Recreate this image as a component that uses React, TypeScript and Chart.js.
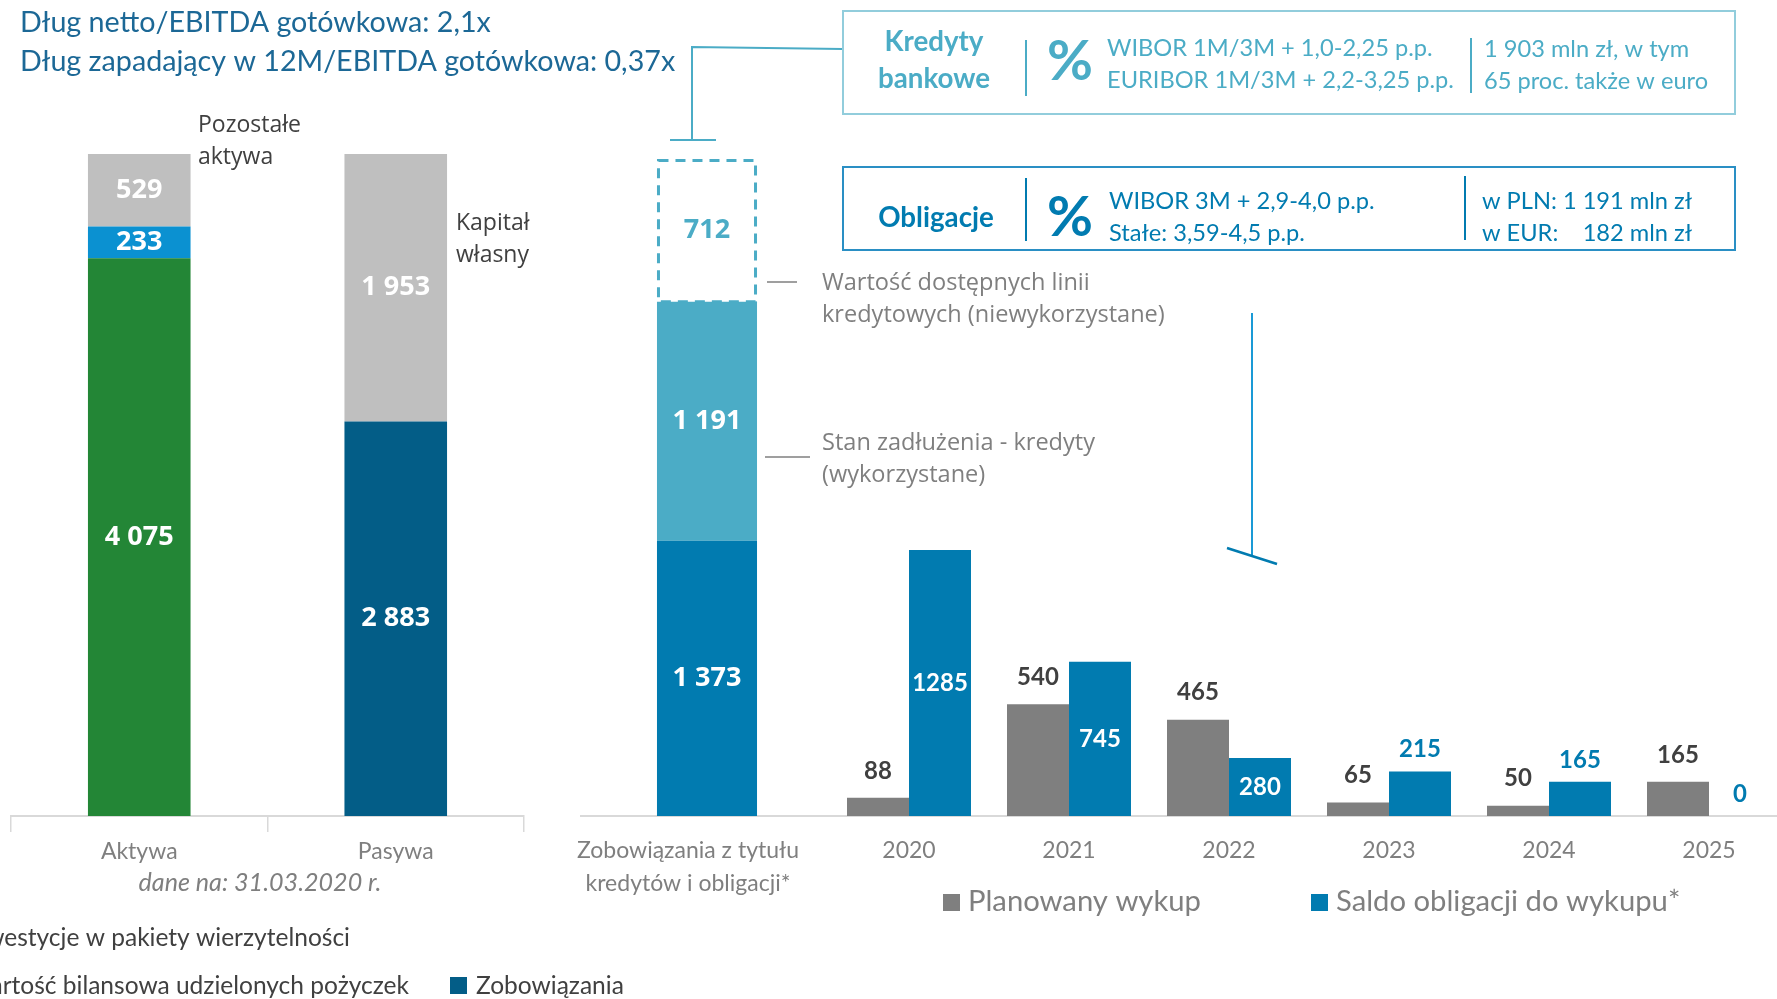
import React, { useEffect, useRef } from 'react';
import { Chart, registerables } from 'chart.js';
Chart.register(...registerables);

// ---------------- data ----------------
const balanceCategories = ['Aktywa', 'Pasywa'];
const debtPortfolios = [4075, null]; // Inwestycje w pakiety wierzytelności
const loansGranted = [233, null]; // Wartość bilansowa udzielonych pożyczek
const otherAssets = [529, null]; // Pozostałe aktywa
const liabilities = [null, 2883]; // Zobowiązania
const equity = [null, 1953]; // Kapitał własny

const debtCategories = [['Zobowiązania z tytułu', 'kredytów i obligacji*']];
const bondsDebt = [1373];
const creditUsed = [1191];
const creditAvailable = [712];

const years = ['2020', '2021', '2022', '2023', '2024', '2025'];
const plannedRedemption = [88, 540, 465, 65, 50, 165];
const bondBalance = [1285, 745, 280, 215, 165, 0];
const bondLabelOutside = [false, false, false, true, true, true];

// ---------------- styles ----------------
const LATO = 'Lato, "Open Sans", sans-serif';
const SANS = '"Open Sans", "DejaVu Sans", sans-serif';
const GREEN = '#238636';
const SKY = '#0B91D1';
const LGRAY = '#BFBFBF';
const NAVY = '#035D87';
const BLUE = '#017BB0';
const TEAL = '#4BACC6';
const GRAY = '#7F7F7F';
const DARK = '#404040';
const TITLE = '#1C6896';
const AXIS = '#D9D9D9';

const fmtSpace = (v: number) => String(v).replace(/\B(?=(\d{3})+(?!\d))/g, ' ');
const fmtPlain = (v: number) => String(v);

const valueLabels = {
  id: 'valueLabels',
  afterDatasetsDraw(chart: any) {
    const ctx = chart.ctx;
    chart.data.datasets.forEach((ds: any, di: number) => {
      const st = ds.lbl;
      if (!st) return;
      const meta = chart.getDatasetMeta(di);
      meta.data.forEach((bar: any, i: number) => {
        const v = ds.data[i];
        if (v === null || v === undefined) return;
        const p = bar.getProps(['x', 'y', 'base', 'width'], true);
        ctx.save();
        if (st.dashed) {
          ctx.strokeStyle = st.dashed;
          ctx.lineWidth = 3;
          ctx.setLineDash([10, 7]);
          ctx.strokeRect(p.x - p.width / 2 + 1.5, p.y + 1.5, p.width - 3, p.base - p.y - 1.5);
          ctx.setLineDash([]);
        }
        const outside = Array.isArray(st.outside) ? st.outside[i] : !!st.outside;
        ctx.font = st.font;
        ctx.fillStyle = outside ? st.outColor || st.color : st.color;
        ctx.textAlign = 'center';
        ctx.textBaseline = 'middle';
        const ty = outside ? p.y - st.offset : (p.y + p.base) / 2;
        ctx.fillText(st.fmt(v), p.x, ty);
        ctx.restore();
      });
    });
  },
};

const fixAxis = (h: number) => (scale: any) => {
  scale.height = h;
  scale.paddingLeft = 0;
  scale.paddingRight = 0;
};

function baseOptions(pad: any, yMax: number, xOpts: any) {
  return {
    responsive: false,
    animation: false,
    devicePixelRatio: 1,
    layout: { padding: pad },
    plugins: { legend: { display: false }, tooltip: { enabled: false }, title: { display: false } },
    scales: {
      x: Object.assign({ stacked: true, afterFit: fixAxis(183) }, xOpts),
      y: { stacked: true, display: false, min: 0, max: yMax },
    },
  };
}

// -------------- overlay (annotations) --------------
function fontStr(size: number, weight = 'normal', family = LATO, style = 'normal') {
  return `${style} ${weight} ${size}px ${family}`;
}
function fitSize(ctx: any, s: string, w: number, weight = 'normal', family = LATO, style = 'normal') {
  ctx.font = fontStr(100, weight, family, style);
  return (100 * w) / ctx.measureText(s).width;
}
function put(ctx: any, s: string, x: number, y: number, size: number, color: string, weight = 'normal', family = LATO, align = 'left', style = 'normal') {
  ctx.font = fontStr(size, weight, family, style);
  ctx.fillStyle = color;
  ctx.textAlign = align;
  ctx.textBaseline = 'middle';
  ctx.fillText(s, x, y);
  return ctx.measureText(s).width;
}
function poly(ctx: any, pts: number[][], color: string, w: number) {
  ctx.beginPath();
  ctx.moveTo(pts[0][0], pts[0][1]);
  for (let i = 1; i < pts.length; i++) ctx.lineTo(pts[i][0], pts[i][1]);
  ctx.strokeStyle = color;
  ctx.lineWidth = w;
  ctx.stroke();
}

function drawOverlay(c: HTMLCanvasElement) {
  const ctx: any = c.getContext('2d');
  ctx.clearRect(0, 0, c.width, c.height);

  // titles
  const t1 = 'Dług netto/EBITDA gotówkowa: 2,1x';
  const ts = fitSize(ctx, t1, 471);
  put(ctx, t1, 20, 23, ts, TITLE);
  put(ctx, 'Dług zapadający w 12M/EBITDA gotówkowa: 0,37x', 20, 62, ts, TITLE);

  // left annotations
  const as = fitSize(ctx, 'Pozostałe', 103, 'normal', SANS);
  put(ctx, 'Pozostałe', 198, 125, as, DARK, 'normal', SANS);
  put(ctx, 'aktywa', 198, 157, as, DARK, 'normal', SANS);
  put(ctx, 'Kapitał', 456, 223, as, DARK, 'normal', SANS);
  put(ctx, 'własny', 456, 255, as, DARK, 'normal', SANS);

  const ds = fitSize(ctx, 'dane na: 31.03.2020 r.', 243, 'normal', LATO, 'italic');
  put(ctx, 'dane na: 31.03.2020 r.', 260, 883, ds, GRAY, 'normal', LATO, 'center', 'italic');

  // middle leader lines
  const ls = fitSize(ctx, 'kredytowych (niewykorzystane)', 343, 'normal', SANS);
  poly(ctx, [[767, 282], [797, 282]], GRAY, 1.5);
  put(ctx, 'Wartość dostępnych linii', 822, 283, ls, GRAY, 'normal', SANS);
  put(ctx, 'kredytowych (niewykorzystane)', 822, 315, ls, GRAY, 'normal', SANS);
  poly(ctx, [[765, 457], [810, 457]], GRAY, 1.5);
  put(ctx, 'Stan zadłużenia - kredyty', 822, 443, ls, GRAY, 'normal', SANS);
  put(ctx, '(wykorzystane)', 822, 475, ls, GRAY, 'normal', SANS);

  // bracket to credit box
  poly(ctx, [[843, 49], [692, 47], [692, 140]], TEAL, 2);
  poly(ctx, [[670, 140], [716, 140]], TEAL, 2);

  // Kredyty box
  ctx.strokeStyle = '#92CDDC';
  ctx.lineWidth = 2;
  ctx.strokeRect(843, 11, 892, 103);
  const ks = fitSize(ctx, 'bankowe', 112, 'bold');
  put(ctx, 'Kredyty', 934, 42, ks, TEAL, 'bold', LATO, 'center');
  put(ctx, 'bankowe', 934, 79, ks, TEAL, 'bold', LATO, 'center');
  poly(ctx, [[1026, 40], [1026, 96]], TEAL, 2);
  const ps = fitSize(ctx, '%', 46, 'bold');
  put(ctx, '%', 1047, 62, ps, TEAL, 'bold');
  const ws = fitSize(ctx, 'EURIBOR 1M/3M + 2,2-3,25 p.p.', 347);
  put(ctx, 'WIBOR 1M/3M + 1,0-2,25 p.p.', 1107, 48, ws, TEAL);
  put(ctx, 'EURIBOR 1M/3M + 2,2-3,25 p.p.', 1107, 80, ws, TEAL);
  poly(ctx, [[1471, 38], [1471, 93]], TEAL, 2);
  put(ctx, '1 903 mln zł, w tym', 1484, 49, ws, TEAL);
  put(ctx, '65 proc. także w euro', 1484, 81, ws, TEAL);

  // Obligacje box
  ctx.strokeStyle = '#2A8FC4';
  ctx.lineWidth = 2;
  ctx.strokeRect(843, 167, 892, 83);
  put(ctx, 'Obligacje', 936, 218, ks, BLUE, 'bold', LATO, 'center');
  poly(ctx, [[1026, 178], [1026, 241]], BLUE, 2);
  put(ctx, '%', 1047, 218, ps, BLUE, 'bold');
  put(ctx, 'WIBOR 3M + 2,9-4,0 p.p.', 1109, 201, ws, BLUE);
  put(ctx, 'Stałe: 3,59-4,5 p.p.', 1109, 233, ws, BLUE);
  poly(ctx, [[1465, 176], [1465, 240]], BLUE, 2);
  const plnW = put(ctx, 'w PLN: 1 191 mln zł', 1482, 201, ws, BLUE);
  put(ctx, 'w EUR:', 1482, 233, ws, BLUE);
  put(ctx, '182 mln zł', 1482 + plnW, 233, ws, BLUE, 'normal', LATO, 'right');

  // arrow line from bonds box to chart
  poly(ctx, [[1252, 313], [1252, 556]], '#1A9AD6', 2);
  poly(ctx, [[1227, 548], [1277, 564]], BLUE, 2.5);

  // right legend
  const lg = fitSize(ctx, 'Planowany wykup', 233);
  ctx.fillStyle = GRAY;
  ctx.fillRect(943, 894, 17, 17);
  put(ctx, 'Planowany wykup', 968, 902, lg, GRAY);
  ctx.fillStyle = BLUE;
  ctx.fillRect(1311, 894, 17, 17);
  put(ctx, 'Saldo obligacji do wykupu*', 1336, 902, lg, GRAY);

  // left legend (partially cut off)
  const bl = fitSize(ctx, 'Zobowiązania', 148);
  put(ctx, 'Inwestycje w pakiety wierzytelności', 350, 938, bl, DARK, 'normal', LATO, 'right');
  put(ctx, 'Wartość bilansowa udzielonych pożyczek', 409, 986, bl, DARK, 'normal', LATO, 'right');
  ctx.fillStyle = NAVY;
  ctx.fillRect(450, 977, 17, 17);
  put(ctx, 'Zobowiązania', 476, 986, bl, DARK);
}

export default function App() {
  const overlayRef = useRef<HTMLCanvasElement>(null);
  const leftRef = useRef<HTMLCanvasElement>(null);
  const midRef = useRef<HTMLCanvasElement>(null);
  const rightRef = useRef<HTMLCanvasElement>(null);

  useEffect(() => {
    const whiteBold = { font: fontStr(27, 'bold', SANS), color: '#FFFFFF', fmt: fmtSpace };
    const tickFont = { family: LATO, size: 23, lineHeight: 1.2 };

    const left = new Chart(leftRef.current as any, {
      type: 'bar',
      data: {
        labels: balanceCategories,
        datasets: [
          { label: 'Inwestycje w pakiety wierzytelności', data: debtPortfolios, backgroundColor: GREEN, lbl: whiteBold },
          { label: 'Wartość bilansowa udzielonych pożyczek', data: loansGranted, backgroundColor: SKY, lbl: whiteBold },
          { label: 'Pozostałe aktywa', data: otherAssets, backgroundColor: LGRAY, lbl: whiteBold },
          { label: 'Zobowiązania', data: liabilities, backgroundColor: NAVY, lbl: whiteBold },
          { label: 'Kapitał własny', data: equity, backgroundColor: LGRAY, lbl: whiteBold },
        ].map((d: any) => ({ ...d, barPercentage: 0.4, categoryPercentage: 1 })),
      } as any,
      options: baseOptions({ left: 11, right: 16, top: 0, bottom: 0 }, 5962, {
        grid: { display: true, drawOnChartArea: false, drawTicks: true, tickLength: 16, color: AXIS, lineWidth: 1.5, offset: true },
        border: { display: true, color: AXIS, width: 2 },
        ticks: { font: tickFont, color: GRAY, padding: 6, maxRotation: 0, minRotation: 0, autoSkip: false },
      }) as any,
      plugins: [valueLabels],
    });

    const mid = new Chart(midRef.current as any, {
      type: 'bar',
      data: {
        labels: debtCategories,
        datasets: [
          { label: 'Obligacje', data: bondsDebt, backgroundColor: BLUE, lbl: whiteBold },
          { label: 'Stan zadłużenia - kredyty (wykorzystane)', data: creditUsed, backgroundColor: TEAL, lbl: whiteBold },
          {
            label: 'Wartość dostępnych linii kredytowych (niewykorzystane)',
            data: creditAvailable,
            backgroundColor: 'rgba(0,0,0,0)',
            lbl: { font: fontStr(27, 'bold', SANS), color: TEAL, fmt: fmtSpace, dashed: TEAL },
          },
        ].map((d: any) => ({ ...d, barPercentage: 0.397, categoryPercentage: 1 })),
      } as any,
      options: baseOptions({ left: 21, right: 17, top: 0, bottom: 0 }, 4069, {
        grid: { display: false, drawTicks: false },
        border: { display: true, color: AXIS, width: 2 },
        ticks: { font: { family: LATO, size: 23, lineHeight: 1.43 }, color: GRAY, padding: 18, labelOffset: -19, maxRotation: 0, minRotation: 0, autoSkip: false },
      }) as any,
      plugins: [valueLabels],
    });

    const right = new Chart(rightRef.current as any, {
      type: 'bar',
      data: {
        labels: years,
        datasets: [
          {
            label: 'Planowany wykup',
            data: plannedRedemption,
            backgroundColor: GRAY,
            lbl: { font: fontStr(24, 'bold', LATO), color: DARK, outside: true, offset: 27, fmt: fmtPlain },
          },
          {
            label: 'Saldo obligacji do wykupu*',
            data: bondBalance,
            backgroundColor: BLUE,
            lbl: { font: fontStr(24, 'bold', LATO), color: '#FFFFFF', outColor: BLUE, outside: bondLabelOutside, offset: 22, fmt: fmtPlain },
          },
        ].map((d: any) => ({ ...d, barPercentage: 1, categoryPercentage: 0.775 })),
      } as any,
      options: (() => {
        const o: any = baseOptions({ left: 29, right: 11, top: 0, bottom: 0 }, 3942, {
          grid: { display: false, drawTicks: false },
          border: { display: true, color: AXIS, width: 2 },
          ticks: { font: tickFont, color: GRAY, padding: 21, maxRotation: 0, minRotation: 0, autoSkip: false },
        });
        o.scales.x.stacked = false;
        o.scales.y.stacked = false;
        return o;
      })(),
      plugins: [valueLabels],
    });

    if (overlayRef.current) drawOverlay(overlayRef.current);

    return () => {
      left.destroy();
      mid.destroy();
      right.destroy();
    };
  }, []);

  const abs = (l: number, w: number): any => ({ position: 'absolute', left: l, top: 0, width: w, height: 999, display: 'block' });

  return (
    <div style={{ position: 'fixed', left: 0, top: 0, width: 1777, height: 999, overflow: 'hidden', background: '#FFFFFF' }}>
      <canvas ref={overlayRef} width={1777} height={999} style={abs(0, 1777)} />
      <canvas ref={leftRef} width={540} height={999} style={abs(0, 540)} />
      <canvas ref={midRef} width={290} height={999} style={abs(560, 290)} />
      <canvas ref={rightRef} width={1000} height={999} style={abs(800, 1000)} />
    </div>
  );
}
